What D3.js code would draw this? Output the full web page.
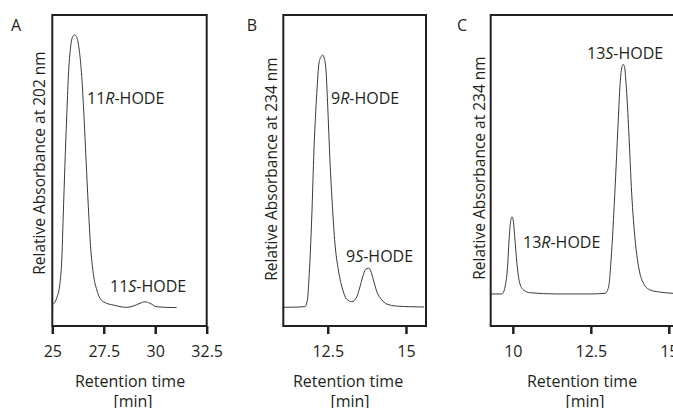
<!DOCTYPE html>
<html>
<head>
<meta charset="utf-8">
<script src="https://cdn.jsdelivr.net/npm/d3@7"></script>
<style>
  body { margin: 0; background: #fff; }
  text { font-family: "Open Sans", sans-serif; fill: #231f20; }
</style>
</head>
<body>
<script>
// Panel A - 11-HODE, absorbance at 202 nm
var timeA = [25.00, 25.21, 25.37, 25.46, 25.53, 25.61, 25.70, 25.78, 25.89, 25.99, 26.09, 26.19,
             26.31, 26.43, 26.54, 26.64, 26.75, 26.86, 26.99, 27.16, 27.32, 27.57, 27.96, 28.61,
             28.93, 29.26, 29.50, 29.74, 30.07, 30.56, 31.04];
var absA  = [6.75, 8.9, 13.7, 21.2, 35.1, 51.2, 67.3, 80.2, 89.8, 93.0, 93.6, 92.8,
             88.7, 80.2, 67.3, 53.4, 38.4, 25.5, 16.9, 11.6, 8.9, 7.5, 6.75, 6.0,
             6.4, 7.3, 7.8, 7.3, 6.2, 6.0, 5.9];

// Panel B - 9-HODE, absorbance at 234 nm
var timeB = [11.08, 11.77, 11.85, 11.91, 11.99, 12.06, 12.15, 12.22, 12.29, 12.34, 12.39, 12.45,
             12.50, 12.57, 12.65, 12.73, 12.84, 12.98, 13.11, 13.27, 13.43, 13.53, 13.62, 13.71,
             13.80, 13.87, 13.96, 14.07, 14.23, 14.38, 14.70, 15.13, 15.58];
var absB  = [6.0, 6.2, 8.4, 16.9, 35.1, 56.6, 74.8, 84.5, 86.6, 87.1, 86.1, 81.3,
             70.5, 53.4, 38.4, 26.6, 18.0, 11.6, 8.6, 7.8, 9.4, 12.6, 15.9, 18.2,
             18.6, 17.8, 14.8, 11.0, 8.4, 7.1, 6.4, 6.2, 6.1];

// Panel C - 13-HODE, absorbance at 234 nm
var timeC = [9.29, 9.65, 9.75, 9.83, 9.88, 9.92, 9.97, 10.01, 10.06, 10.13, 10.21, 10.34,
             10.55, 11.41, 12.48, 12.96, 13.07, 13.17, 13.28, 13.37, 13.44, 13.50, 13.54, 13.58,
             13.63, 13.72, 13.81, 13.92, 14.03, 14.19, 14.40, 14.72, 15.15];
var absC  = [10.3, 10.3, 12.6, 19.0, 27.7, 33.0, 35.1, 34.1, 28.7, 20.2, 14.2, 11.6,
             10.7, 10.3, 10.3, 10.5, 12.6, 24.4, 44.8, 64.1, 78.0, 83.4, 84.1, 83.4,
             78.0, 62.0, 42.7, 27.7, 19.1, 13.7, 11.6, 10.9, 10.5];

// tick values for each panel
var ticksA = [25, 27.5, 30, 32.5];
var ticksB = [12.5, 15];
var ticksC = [10, 12.5, 15];

var svg = d3.select("body")
            .append("svg")
            .attr("width", 673)
            .attr("height", 408);

var plotTop = 15, plotBottom = 326;

var y = d3.scaleLinear().domain([0, 100]).range([plotBottom, plotTop]);

var panels = [
  { letter: "A", letterPos: [16, 31], time: timeA, abs: absA, ticks: ticksA,
    domain: [25, 32.5], range: [52.3, 206.7],
    ylabel: "Relative Absorbance at 202 nm", ylabelPos: [40, 163],
    titleX: 130, minX: 133,
    peaks: [ { num: "11", iso: "R", x: 87, y: 104 }, { num: "11", iso: "S", x: 110, y: 292 } ] },
  { letter: "B", letterPos: [252, 31], time: timeB, abs: absB, ticks: ticksB,
    domain: [11.08, 15.64], range: [283.3, 426],
    ylabel: "Relative Absorbance at 234 nm", ylabelPos: [272, 169],
    titleX: 348, minX: 350,
    peaks: [ { num: "9", iso: "R", x: 331, y: 104 }, { num: "9", iso: "S", x: 346, y: 262 } ] },
  { letter: "C", letterPos: [462, 31], time: timeC, abs: absC, ticks: ticksC,
    domain: [9.29, 15.68], range: [490.7, 690],
    ylabel: "Relative Absorbance at 234 nm", ylabelPos: [480, 168],
    titleX: 582, minX: 585,
    peaks: [ { num: "13", iso: "S", x: 587, y: 59 }, { num: "13", iso: "R", x: 523, y: 248 } ] }
];

panels.forEach(function(p) {
  var x = d3.scaleLinear().domain(p.domain).range(p.range);
  var g = svg.append("g");

  // trace
  var pts = p.time.map(function(t, i) { return [t, p.abs[i]]; });
  var line = d3.line()
               .x(function(d) { return x(d[0]); })
               .y(function(d) { return y(d[1]); })
               .curve(d3.curveMonotoneX);
  g.append("path")
   .datum(pts)
   .attr("d", line)
   .attr("fill", "none")
   .attr("stroke", "#3a3a3a")
   .attr("stroke-width", 1);

  // frame
  g.append("rect")
   .attr("x", p.range[0])
   .attr("y", plotTop)
   .attr("width", p.range[1] - p.range[0])
   .attr("height", plotBottom - plotTop)
   .attr("fill", "none")
   .attr("stroke", "#231f20")
   .attr("stroke-width", 2);

  // x axis
  var axis = g.append("g")
              .attr("transform", "translate(0," + plotBottom + ")")
              .call(d3.axisBottom(x)
                      .tickValues(p.ticks)
                      .tickFormat(function(d) { return String(d); })
                      .tickSize(8)
                      .tickSizeOuter(0)
                      .tickPadding(12));
  axis.select(".domain").remove();
  axis.selectAll(".tick line").attr("stroke", "#231f20").attr("stroke-width", 2.5);
  axis.selectAll(".tick text")
      .attr("fill", "#231f20")
      .style("font-family", "'Open Sans', sans-serif")
      .style("font-size", "16px");

  // axis titles
  g.append("text")
   .attr("x", p.titleX).attr("y", 387)
   .attr("text-anchor", "middle")
   .style("font-size", "16px")
   .text("Retention time");
  g.append("text")
   .attr("x", p.minX).attr("y", 407)
   .attr("text-anchor", "middle")
   .style("font-size", "16px")
   .text("[min]");

  g.append("text")
   .attr("transform", "translate(" + p.ylabelPos[0] + "," + p.ylabelPos[1] + ") rotate(-90)")
   .attr("text-anchor", "middle")
   .attr("dy", "0.35em")
   .style("font-size", "15.5px")
   .text(p.ylabel);

  // panel letter
  g.append("text")
   .attr("x", p.letterPos[0]).attr("y", p.letterPos[1])
   .attr("text-anchor", "middle")
   .style("font-size", "16px")
   .text(p.letter);

  // peak labels
  p.peaks.forEach(function(pk) {
    var t = g.append("text")
             .attr("x", pk.x).attr("y", pk.y)
             .style("font-size", "16px");
    t.append("tspan").text(pk.num);
    t.append("tspan").style("font-style", "italic").text(pk.iso);
    t.append("tspan").text("-HODE");
  });
});
</script>
</body>
</html>
